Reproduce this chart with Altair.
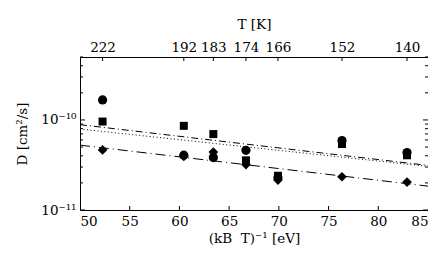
import altair as alt
import pandas as pd

# ---- data ----
inv_kT = [52.27, 60.44, 63.41, 66.69, 69.91, 76.35, 82.89]
T_labels = ["222", "192", "183", "174", "166", "152", "140"]
D_circle = [1.67e-10, 4.06e-11, 3.82e-11, 4.6e-11, 2.3e-11, 5.9e-11, 4.35e-11]
D_square = [9.6e-11, 8.6e-11, 6.97e-11, 3.56e-11, 2.4e-11, 5.4e-11, 4.05e-11]
D_diamond = [4.65e-11, 3.95e-11, 4.4e-11, 3.2e-11, 2.15e-11, 2.34e-11, 2.04e-11]

fit_x = [50, 85]
fit_upper = [8.86e-11, 3.13e-11]
fit_dotted = [7.93e-11, 3.05e-11]
fit_lower = [5.25e-11, 1.84e-11]

x_ticks = [50, 55, 60, 65, 70, 75, 80, 85]
y_major = [1e-11, 1e-10]
y_minor = [2e-11, 3e-11, 4e-11, 5e-11, 6e-11, 7e-11, 8e-11, 9e-11,
           2e-10, 3e-10, 4e-10, 5e-10]

FONT = "DejaVu Serif"
FS = 13.5
W, H = 348, 153

xs = alt.Scale(domain=[50, 85], nice=False, zero=False)
ys = alt.Scale(type="log", domain=[1e-11, 5e-10], nice=False)

# label expression for the top axis
top_expr = ""
for i, lab in enumerate(T_labels):
    if i < len(T_labels) - 1:
        mid = (inv_kT[i] + inv_kT[i + 1]) / 2
        top_expr += f"datum.value < {mid} ? '{lab}' : "
    else:
        top_expr += f"'{lab}'"

ax_bottom_labels = alt.Axis(orient="bottom", values=x_ticks, ticks=False, domain=False,
                            grid=False, labelPadding=4, labelFontSize=FS,
                            title="(kB\u00a0 T)⁻¹ [eV]", titleFontSize=FS,
                            titleFontWeight="normal", titlePadding=4)
ax_top_labels = alt.Axis(orient="top", values=inv_kT, ticks=False, domain=False,
                         grid=False, labelPadding=3, labelFontSize=FS,
                         labelExpr=top_expr, title="T [K]", titleFontSize=FS,
                         titleFontWeight="normal", titlePadding=9)
ax_left_labels = alt.Axis(orient="left", values=y_major, ticks=False, domain=False,
                          grid=False, labelPadding=4, labelFontSize=FS,
                          labelExpr="datum.value < 5e-11 ? '10⁻¹¹' : '10⁻¹⁰'",
                          title="D [cm²/s]", titleFontSize=FS,
                          titleFontWeight="normal", titlePadding=11)

def pts(vals, shape, size):
    df = pd.DataFrame({"x": inv_kT, "D": vals})
    return alt.Chart(df).mark_point(shape=shape, filled=True, color="black",
                                    size=size, opacity=1).encode(
        x=alt.X("x:Q", scale=xs, axis=None),
        y=alt.Y("D:Q", scale=ys, axis=None),
    )

def fit(vals, dash, xaxis=None, yaxis=None):
    df = pd.DataFrame({"x": fit_x, "D": vals})
    return alt.Chart(df).mark_line(color="black", strokeWidth=1,
                                   strokeDash=dash).encode(
        x=alt.X("x:Q", scale=xs, axis=xaxis),
        y=alt.Y("D:Q", scale=ys, axis=yaxis),
    )

# inward tick marks drawn as short rules, positioned by the shared scales
def xticks(values, edge, length):
    df = pd.DataFrame({"x": values})
    y0 = 0 if edge == "top" else H
    y1 = length if edge == "top" else H - length
    return alt.Chart(df).mark_rule(color="black", strokeWidth=1).encode(
        x=alt.X("x:Q", scale=xs, axis=None),
        y=alt.value(y0), y2=alt.value(y1))

def yticks(values, edge, length):
    df = pd.DataFrame({"D": values})
    x0 = 0 if edge == "left" else W
    x1 = length if edge == "left" else W - length
    return alt.Chart(df).mark_rule(color="black", strokeWidth=1).encode(
        y=alt.Y("D:Q", scale=ys, axis=None),
        x=alt.value(x0), x2=alt.value(x1))

layers = [
    fit(fit_upper, [7, 3, 1, 3], ax_bottom_labels, ax_left_labels),
    fit(fit_dotted, [1, 2.5], ax_top_labels, None),
    fit(fit_lower, [10, 4, 1, 4]),
    xticks(x_ticks[1:-1], "bottom", 4),
    xticks(inv_kT, "top", 4),
    yticks(y_major, "left", 5),
    yticks(y_major, "right", 5),
    yticks(y_minor, "left", 3),
    yticks(y_minor, "right", 3),
    pts(D_square, "square", 64),
    pts(D_diamond, "diamond", 95),
    pts(D_circle, "circle", 85),
]

chart = alt.layer(*layers).resolve_axis(x="independent", y="independent").properties(
    width=W, height=H,
    autosize=alt.AutoSizeParams(type="none"),
    padding={"left": 72, "top": 49, "right": 0, "bottom": 44},
).configure_view(stroke="black", strokeWidth=1).configure_axis(
    labelFont=FONT, titleFont=FONT, labelColor="black", titleColor="black"
)

chart.save("out.html", embed_options={"renderer": "svg", "actions": False})
